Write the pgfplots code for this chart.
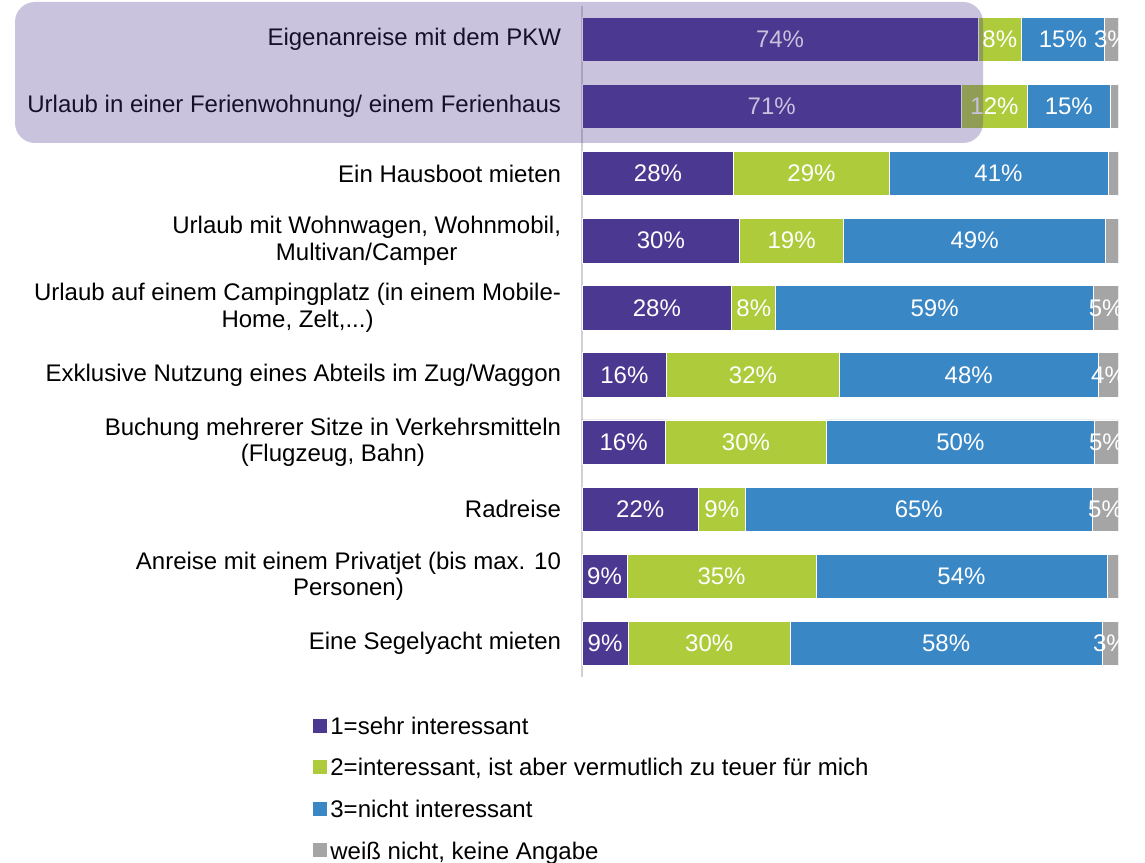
\documentclass[border=0pt]{standalone}
\usepackage{pgfplots}
\pgfplotsset{compat=1.18}
\usepackage{pgfplotstable}
\usepackage{fontspec}
\setmainfont{Liberation Sans}
\definecolor{cP}{RGB}{75,56,145}
\definecolor{cG}{RGB}{173,203,59}
\definecolor{cB}{RGB}{58,135,198}
\definecolor{cY}{RGB}{165,165,165}

\pgfplotstableread{
idx a b c d la lb lc ld
0 73.8 8.1 15.4 2.7 74\% 8\% 15\% 3\%
1 70.7 12.3 15.4 1.6 71\% 12\% 15\% {}
2 28.3 28.9 40.8 2.0 28\% 29\% 41\% {}
3 29.4 19.3 48.9 2.4 30\% 19\% 49\% {}
4 27.9 8.2 59.2 4.7 28\% 8\% 59\% 5\%
5 15.8 32.1 48.3 3.8 16\% 32\% 48\% 4\%
6 15.5 30.1 49.8 4.6 16\% 30\% 50\% 5\%
7 21.7 8.7 64.7 4.9 22\% 9\% 65\% 5\%
8 8.4 35.2 54.2 2.2 9\% 35\% 54\% {}
9 8.6 30.2 58.1 3.1 9\% 30\% 58\% 3\%
}\data
\pgfplotstablecreatecol[create col/expr={\thisrow{a}/2}]{ma}{\data}
\pgfplotstablecreatecol[create col/expr={\thisrow{a}+\thisrow{b}/2}]{mb}{\data}
\pgfplotstablecreatecol[create col/expr={\thisrow{a}+\thisrow{b}+\thisrow{c}/2}]{mc}{\data}
\pgfplotstablecreatecol[create col/expr={\thisrow{a}+\thisrow{b}+\thisrow{c}+\thisrow{d}/2}]{md}{\data}

\pgfplotsset{
  common/.style={
    at={(291bp,92.9bp)}, anchor=south west,
    scale only axis, width=268.35bp, height=335.75bp,
    xmin=0, xmax=100, ymin=-0.5, ymax=9.5,
    y dir=reverse,
  }
}

\begin{document}
\begin{tikzpicture}
\path[use as bounding box] (0,0) rectangle (572.5bp,431.5bp);
\begin{axis}[
  common,
  xbar stacked, bar width=0.663,
  axis x line=none, axis y line*=left,
  y axis line style={draw=black!18, line width=0.6bp, -},
  xtick=\empty,
  ytick={0,1,2,3,4,5,6,7,8,9},
  yticklabels={
    Eigenanreise mit dem PKW,
    Urlaub in einer Ferienwohnung/ einem Ferienhaus,
    Ein Hausboot mieten,
    {Urlaub mit Wohnwagen, Wohnmobil,\\Multivan/Camper},
    {Urlaub auf einem Campingplatz (in einem Mobile-\\Home, Zelt,.{}.{}.)},
    Exklusive Nutzung eines Abteils im Zug/Waggon,
    {Buchung mehrerer Sitze in Verkehrsmitteln\\(Flugzeug, Bahn)},
    Radreise,
    {Anreise mit einem Privatjet (bis max. 10\\Personen)},
    Eine Segelyacht mieten},
  major tick length=0pt,
  ytick style={draw=none},
  yticklabel style={font=\fontsize{12bp}{13.3bp}\selectfont, align=center, anchor=east, inner sep=0pt, xshift=-10.3bp, text=black},
  legend image code/.code={\fill[#1,draw=none] (0bp,-2.2bp) rectangle (7bp,4.8bp);},
  legend cell align=left,
  legend style={draw=none, fill=none, at={(-0.5012,-0.0575)}, anchor=north west,
    font=\fontsize{12bp}{13.3bp}\selectfont, inner sep=0pt, row sep=8.8bp,
    nodes={inner xsep=1.5bp, inner ysep=0pt, text height=9bp, text depth=3bp}},
]
\addplot[fill=cP, draw=white, line width=0.4bp] table[x=a, y=idx]{\data};
\addlegendentry{1=sehr interessant}
\addplot[fill=cG, draw=white, line width=0.4bp] table[x=b, y=idx]{\data};
\addlegendentry{2=interessant, ist aber vermutlich zu teuer für mich}
\addplot[fill=cB, draw=white, line width=0.4bp] table[x=c, y=idx]{\data};
\addlegendentry{3=nicht interessant}
\addplot[fill=cY, draw=white, line width=0.4bp] table[x=d, y=idx]{\data};
\addlegendentry{weiß nicht, keine Angabe}
\end{axis}
\begin{axis}[
  common, hide axis, clip marker paths=true,
  nodes near coords,
  point meta=explicit symbolic,
  every node near coord/.append style={font=\fontsize{12bp}{13.3bp}\selectfont, text=white, anchor=center, inner sep=0pt},
]
\addplot[draw=none, mark=none] table[x=ma, y=idx, meta=la]{\data};
\addplot[draw=none, mark=none] table[x=mb, y=idx, meta=lb]{\data};
\addplot[draw=none, mark=none] table[x=mc, y=idx, meta=lc]{\data};
\addplot[draw=none, mark=none] table[x=md, y=idx, meta=ld]{\data};
\end{axis}
\fill[cP, opacity=0.3, rounded corners=10bp] (7.5bp,360bp) rectangle (491.5bp,430.5bp);
\end{tikzpicture}
\end{document}
